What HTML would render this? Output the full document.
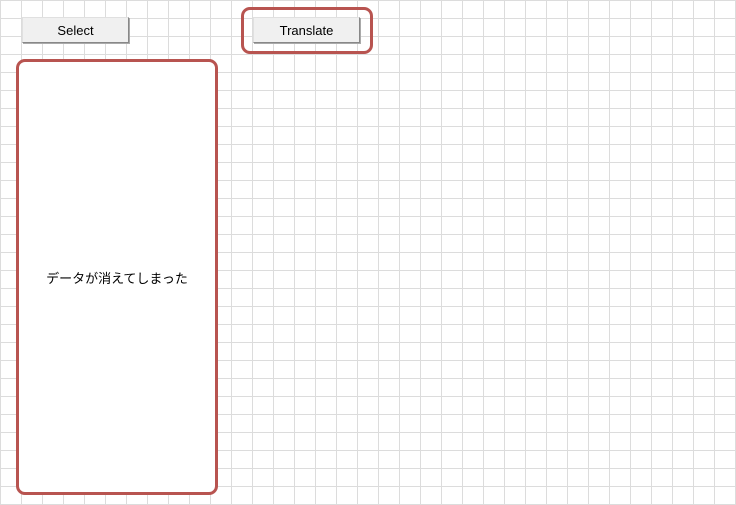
<!DOCTYPE html>
<html><head><meta charset="utf-8"><style>
body{margin:0;width:736px;height:505px;overflow:hidden;position:relative;background-color:#fff;
background-image:linear-gradient(to right,#dcdcdc 1px,transparent 1px),linear-gradient(to bottom,#dcdcdc 1px,transparent 1px);
background-size:21px 18px;background-position:0 0;font-family:"Liberation Sans","Noto Sans CJK JP",sans-serif;}
.btn{position:absolute;width:107px;height:26px;background:#f0f0f0;border:1px solid #e0e0e0;border-right:1px solid #888;border-bottom:1px solid #888;box-shadow:1px 1px 0 #aaa;box-sizing:border-box;font-size:13px;text-align:center;line-height:25px;color:#000;}
.red{position:absolute;border:3px solid #b85450;border-radius:9px;box-sizing:border-box;background:transparent;}
</style></head><body>
<div class="btn" style="left:22px;top:17px">Select</div>
<div class="red" style="left:241px;top:7px;width:132px;height:47px"></div>
<div class="btn" style="left:253px;top:17px">Translate</div>
<div class="red" style="left:16px;top:59px;width:202px;height:436px;background:#fff;display:flex;align-items:center;justify-content:center;font-size:13px">データが消えてしまった</div>
</body></html>
